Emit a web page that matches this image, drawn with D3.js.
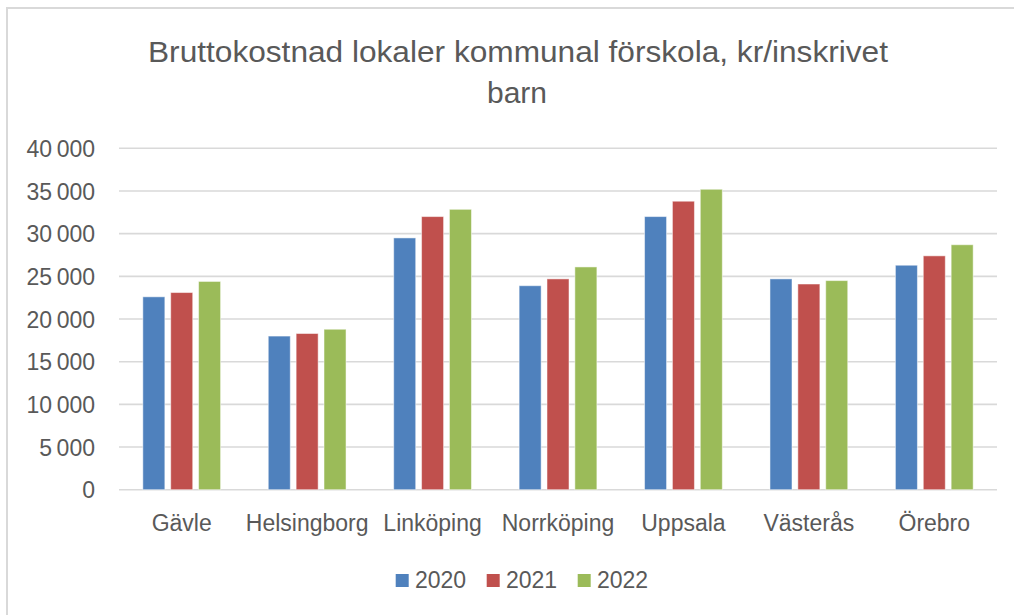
<!DOCTYPE html>
<html>
<head>
<meta charset="utf-8">
<script src="https://cdn.jsdelivr.net/npm/d3@7"></script>
<style>
  html, body { margin: 0; padding: 0; background: #fff; }
  svg { display: block; }
  text { font-family: "Liberation Sans", Arial, sans-serif; fill: #595959; }
</style>
</head>
<body>
<svg id="chart" width="1014" height="615"></svg>
<script>
const categories = ["Gävle", "Helsingborg", "Linköping", "Norrköping", "Uppsala", "Västerås", "Örebro"];
const seriesNames = ["2020", "2021", "2022"];
const values2020 = [22600, 18000, 29500, 23900, 32000, 24700, 26300];
const values2021 = [23100, 18300, 32000, 24700, 33800, 24100, 27400];
const values2022 = [24400, 18800, 32850, 26100, 35200, 24500, 28700];
const yTicks = [0, 5000, 10000, 15000, 20000, 25000, 30000, 35000, 40000];
const colors = ["#4F81BD", "#C0504D", "#9BBB59"];
const titleLines = ["Bruttokostnad lokaler kommunal förskola, kr/inskrivet", "barn"];

const seriesValues = [values2020, values2021, values2022];

const svg = d3.select("#chart");

// outer chart border
svg.append("rect")
  .attr("x", 7).attr("y", 8)
  .attr("width", 1030).attr("height", 640)
  .attr("fill", "#fff")
  .attr("stroke", "#d9d9d9").attr("stroke-width", 2);

const plotLeft = 119, plotRight = 997, plotTop = 148.3, plotBottom = 489.7;

const x = d3.scaleBand().domain(categories).range([plotLeft, plotRight])
  .paddingInner(0.38).paddingOuter(0.19);
const xs = d3.scaleBand().domain(seriesNames).range([0, x.bandwidth()])
  .paddingInner(0.21).paddingOuter(0);
const y = d3.scaleLinear().domain([0, 40000]).range([plotBottom, plotTop]);

const loc = d3.formatLocale({ decimal: ",", thousands: "\u2009", grouping: [3], currency: ["", " kr"] });
const fmt = loc.format(",.0f");

// gridlines
svg.append("g").selectAll("line").data(yTicks).join("line")
  .attr("x1", plotLeft).attr("x2", plotRight)
  .attr("y1", d => y(d)).attr("y2", d => y(d))
  .attr("stroke", "#d9d9d9").attr("stroke-width", 1.6);

// y axis labels
const yAxis = d3.axisLeft(y).tickValues(yTicks).tickFormat(d => fmt(d)).tickSize(0).tickPadding(0);
const yg = svg.append("g").attr("transform", "translate(95,0)").call(yAxis);
yg.select(".domain").remove();
yg.selectAll("text")
  .attr("font-family", "Liberation Sans, Arial, sans-serif")
  .attr("font-size", 23).attr("fill", "#595959")
  .attr("dy", "0.36em");

// bars
const groups = svg.append("g").selectAll("g").data(categories).join("g")
  .attr("transform", d => `translate(${x(d)},0)`);
groups.selectAll("rect")
  .data((c, i) => seriesNames.map((s, k) => ({ s, k, v: seriesValues[k][i] })))
  .join("rect")
  .attr("x", d => xs(d.s))
  .attr("width", xs.bandwidth())
  .attr("y", d => y(d.v))
  .attr("height", d => y(0) - y(d.v))
  .attr("fill", d => colors[d.k])
  .attr("stroke", "#ffffff").attr("stroke-opacity", 0.5).attr("stroke-width", 1);

// x axis labels
const xAxis = d3.axisBottom(x).tickSize(0).tickPadding(0);
const xg = svg.append("g").attr("transform", "translate(0,530.7)").call(xAxis);
xg.select(".domain").remove();
xg.selectAll("text")
  .attr("font-family", "Liberation Sans, Arial, sans-serif")
  .attr("font-size", 23).attr("fill", "#595959")
  .attr("dy", 0).attr("y", 0);

// title
const t1 = svg.append("text")
  .attr("x", 518).attr("y", 62.3)
  .attr("text-anchor", "middle")
  .attr("font-size", 30)
  .attr("textLength", 740).attr("lengthAdjust", "spacingAndGlyphs")
  .text(titleLines[0]);
svg.append("text")
  .attr("x", 517).attr("y", 103.3)
  .attr("text-anchor", "middle")
  .attr("font-size", 30)
  .text(titleLines[1]);

// legend
const legend = svg.append("g").selectAll("g").data(seriesNames).join("g")
  .attr("transform", (d, i) => `translate(${395.7 + i * 91},0)`);
legend.append("rect")
  .attr("x", 0).attr("y", 574).attr("width", 13).attr("height", 13)
  .attr("fill", (d, i) => colors[i]);
legend.append("text")
  .attr("x", 19.3).attr("y", 588.3)
  .attr("font-size", 23)
  .text(d => d);
</script>
</body>
</html>
